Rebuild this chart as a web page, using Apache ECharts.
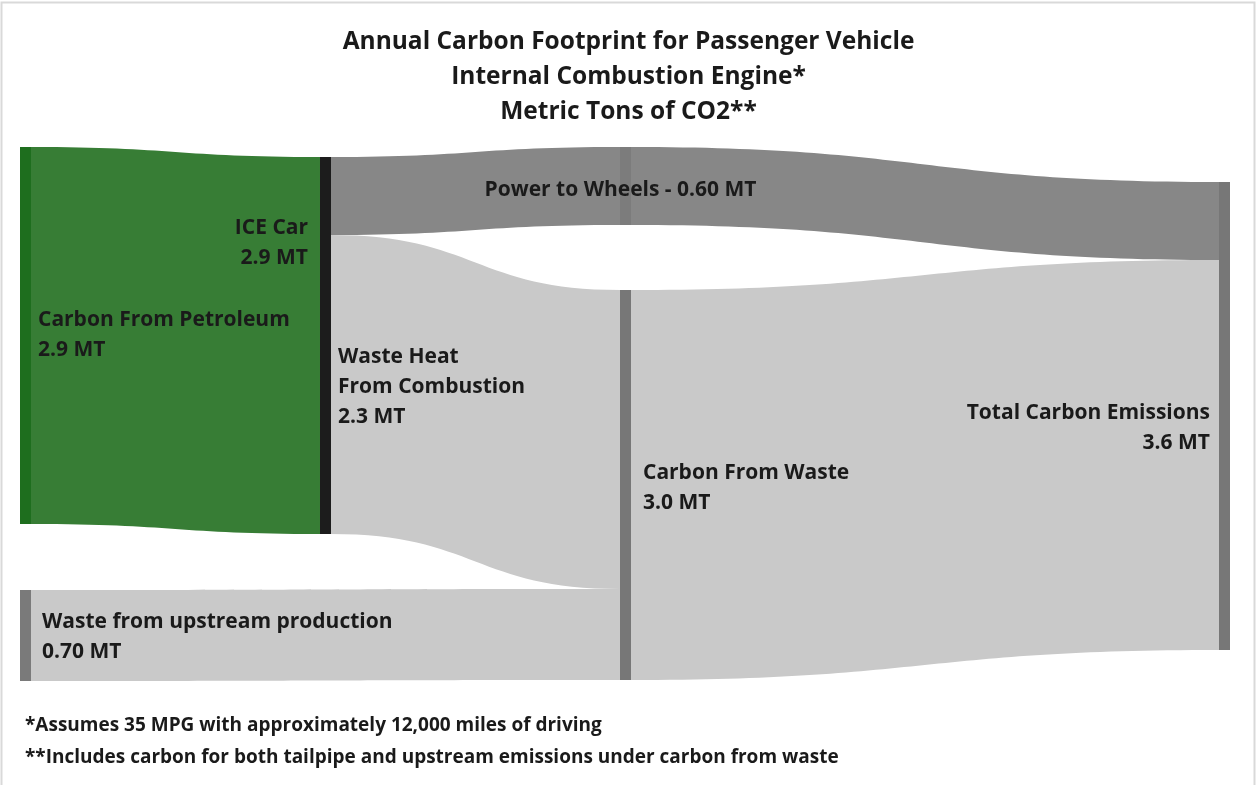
<!DOCTYPE html>
<html>
<head>
<meta charset="utf-8">
<script src="https://cdn.jsdelivr.net/npm/echarts@6/dist/echarts.min.js"></script>
<style>
html,body{margin:0;padding:0;background:#fff;}
#chart{width:1257px;height:785px;}
</style>
</head>
<body>
<div id="chart"></div>
<script>
// ---- data ----
const titleLines = ['Annual Carbon Footprint for Passenger Vehicle', 'Internal Combustion Engine*', 'Metric Tons of CO2**'];
const footnotes = ['*Assumes 35 MPG with approximately 12,000 miles of driving', '**Includes carbon for both tailpipe and upstream emissions under carbon from waste'];
const nodeNames = ['Carbon From Petroleum', 'Waste from upstream production', 'ICE Car', 'Power to Wheels', 'Carbon From Waste', 'Total Carbon Emissions'];
const nodeLabels = ['Carbon From Petroleum\n2.9 MT', 'Waste from upstream production\n0.70 MT', 'ICE Car\n2.9 MT', 'Power to Wheels - 0.60 MT', 'Carbon From Waste\n3.0 MT', 'Total Carbon Emissions\n3.6 MT'];
const linkSources = ['Carbon From Petroleum', 'ICE Car', 'ICE Car', 'Waste from upstream production', 'Power to Wheels', 'Carbon From Waste'];
const linkTargets = ['ICE Car', 'Power to Wheels', 'Carbon From Waste', 'Carbon From Waste', 'Total Carbon Emissions', 'Total Carbon Emissions'];
const linkValues = [2.9, 0.6, 2.3, 0.7, 0.6, 3.0];
const wasteHeatLabel = 'Waste Heat\nFrom Combustion\n2.3 MT';

// ---- layout / style (not data) ----
const L = 20, T = 147, W = 1210, H = 534, GAP = 66, NW = 11;
const nodePos = {
  'Carbon From Petroleum': [0, 0],
  'Waste from upstream production': [0, 443],
  'ICE Car': [300, 10],
  'Power to Wheels': [600, 0],
  'Carbon From Waste': [600, 143],
  'Total Carbon Emissions': [1199, 35]
};
const nodeColor = {
  'Carbon From Petroleum': '#1e6e1e',
  'Waste from upstream production': '#7a7a7a',
  'ICE Car': '#1c1c1c',
  'Power to Wheels': '#7c7c7c',
  'Carbon From Waste': '#777777',
  'Total Carbon Emissions': '#777777'
};
const FONT = 'Open Sans';
const labelBase = {show: true, color: '#1a1a1a', fontFamily: FONT, fontWeight: 'bold', fontSize: 21, lineHeight: 30};
const nodeLabelCfg = {
  'Carbon From Petroleum': {position: 'right', distance: 7},
  'Waste from upstream production': {position: 'right', distance: 11, offset: [0, 2]},
  'ICE Car': {position: [-12, 86], align: 'right', verticalAlign: 'middle'},
  'Power to Wheels': {position: 'inside', offset: [-5, 4]},
  'Carbon From Waste': {position: 'right', distance: 12, offset: [0, 3]},
  'Total Carbon Emissions': {position: 'left', distance: 9, offset: [0, 12]}
};
const linkColor = ['#377d35', '#878787', '#c9c9c9', '#c9c9c9', '#878787', '#c9c9c9'];

const nodes = nodeNames.map((n, i) => ({
  name: n,
  localX: nodePos[n][0] / W,
  localY: nodePos[n][1] / H,
  itemStyle: {color: nodeColor[n], borderWidth: 0},
  label: Object.assign({}, labelBase, nodeLabelCfg[n], {formatter: nodeLabels[i]})
}));
const links = linkValues.map((v, i) => ({
  source: linkSources[i], target: linkTargets[i], value: v,
  lineStyle: {color: linkColor[i], opacity: 1, curveness: 0.5}
}));

const chart = echarts.init(document.getElementById('chart'));
chart.setOption({
  animation: false,
  backgroundColor: '#fff',
  title: [{
    text: titleLines.join('\n'),
    left: 'center', top: 20,
    textStyle: {fontFamily: FONT, fontWeight: 'bold', fontSize: 24.5, lineHeight: 35, color: '#1a1a1a'}
  }, {
    text: footnotes.join('\n'),
    left: 20, top: 705,
    textStyle: {fontFamily: FONT, fontWeight: 'bold', fontSize: 19, lineHeight: 32, color: '#1a1a1a'}
  }],
  graphic: [{
    type: 'rect', silent: true, z: -10,
    shape: {x: 1.5, y: 2.5, width: 1253, height: 800},
    style: {fill: 'none', stroke: '#d9d9d9', lineWidth: 2}
  }, {
    type: 'text', z: 100,
    style: {x: 338, y: 387, text: wasteHeatLabel, fontFamily: FONT, fontWeight: 'bold', fontSize: 21, lineHeight: 30, fill: '#1a1a1a', verticalAlign: 'middle', align: 'left'}
  }],
  series: [{
    type: 'sankey',
    left: L, top: T, width: W, height: H,
    nodeWidth: NW, nodeGap: GAP,
    layoutIterations: 0,
    draggable: false,
    emphasis: {disabled: true},
    data: nodes,
    links: links
  }]
});
</script>
</body>
</html>
